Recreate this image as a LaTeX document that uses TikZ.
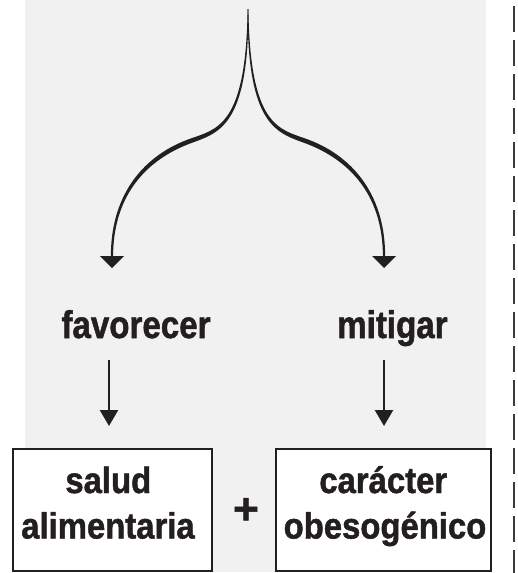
\documentclass[tikz,border=0pt]{standalone}
\usepackage{fontspec}
\setmainfont{Liberation Sans}
\newfontfamily\labfont{Liberation Sans Bold}[FakeStretch=0.86, FakeBold=1.3]
\newfontfamily\boxfont{Liberation Sans Bold}[FakeStretch=0.90, FakeBold=1.3]
\newfontfamily\plusfont{Liberation Sans Bold}[FakeBold=1.3]
\usetikzlibrary{arrows.meta}
\definecolor{ink}{HTML}{231F20}
\definecolor{bggray}{HTML}{F1F1F1}
\definecolor{dashgray}{HTML}{3A3A3A}
\begin{document}
\begin{tikzpicture}[x=1pt,y=-1pt,
  lbl/.style={font=\labfont\fontsize{38.5}{40}\selectfont, text=ink, inner sep=0pt},
  btxt/.style={font=\boxfont\fontsize{36.5}{40}\selectfont, text=ink, inner sep=0pt},
  box/.style={draw=ink, line width=1.5pt, fill=white, inner sep=0pt},
  shortarrow/.style={draw=ink, line width=2.4pt, -{Triangle[length=16pt,width=18pt]}},
  branch/.style={fill=ink, draw=none},
]
\useasboundingbox (0,0) rectangle (518,573);
% background panel
\fill[bggray] (25,0) rectangle (486,572);
% dashed separator
\coordinate (dtop) at (514,6);
\coordinate (dbot) at (514,573);
\draw[dashgray, line width=1.3pt, dash pattern=on 26pt off 8pt] (dtop) -- (dbot);

% forked arrow (tapered), left branch and its mirror
\foreach \m in {1,-1}{
\begin{scope}[shift={({248-\m*248},0)}, xscale=\m]
  \fill[branch] (247.6,9) .. controls (246,128) and (216.3,129.1) .. (188.2,139.4)
     .. controls (139.1,157.7) and (110.7,199.5) .. (110.9,256)
     -- (113.1,256) .. controls (113.3,200.5) and (140.9,162.3) .. (189.8,143.6)
     .. controls (217.8,133.1) and (249,128) .. (248.4,9) -- cycle;
  \fill[branch] (100,256) -- (124,256) -- (112,268) -- cycle;
\end{scope}
}

% labels
\node[lbl, anchor=base] (fav) at (136,338) {favorecer};
\node[lbl, anchor=base] (mit) at (392.4,338) {mitigar};

% boxes
\node[box, minimum width=199pt, minimum height=122pt] (lbox) at (112.5,510) {};
\node[box, minimum width=215pt, minimum height=122pt] (rbox) at (383.5,510) {};
\node[btxt, anchor=base] (l1) at (108.3,493) {salud};
\node[btxt, anchor=base] (l2) at (108,538.5) {alimentaria};
\node[btxt, anchor=base] (r1) at (383.3,493) {carácter};
\node[btxt, anchor=base] (r2) at (385,538.5) {obesogénico};
\node[font=\plusfont\fontsize{44}{44}\selectfont, text=ink, inner sep=0pt] (plus) at (246,511) {+};

% short arrows
\coordinate (fa) at (109,360);
\coordinate (fb) at (109,426);
\coordinate (ma) at (384,360);
\coordinate (mb) at (384,426);
\draw[shortarrow] (fa) -- (fb);
\draw[shortarrow] (ma) -- (mb);
\end{tikzpicture}
\end{document}
